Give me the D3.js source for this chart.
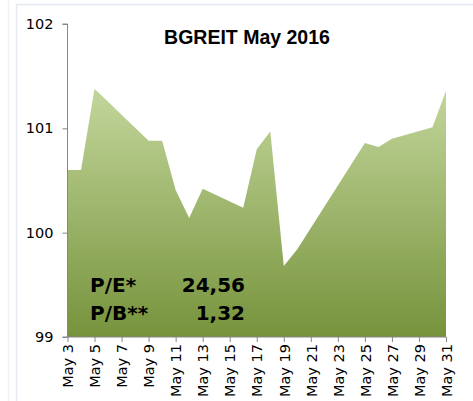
<!DOCTYPE html>
<html>
<head>
<meta charset="utf-8">
<script src="https://cdn.jsdelivr.net/npm/d3@7"></script>
<style>
  html, body { margin: 0; padding: 0; background: #ffffff; }
  svg { display: block; }
</style>
</head>
<body>
<svg id="chart" width="473" height="401"></svg>
<script>
// ---- data ----
const days = [3, 4, 5, 9, 10, 11, 12, 13, 16, 17, 18, 19, 20, 25, 26, 27, 30, 31];
const values = [100.60, 100.60, 101.38, 100.88, 100.88, 100.41, 100.14, 100.42, 100.24,
                100.80, 100.97, 99.68, 99.84, 100.86, 100.82, 100.90, 101.01, 101.36];
const tickDays = [3, 5, 7, 9, 11, 13, 15, 17, 19, 21, 23, 25, 27, 29, 31];
const tickLabels = ["May 3", "May 5", "May 7", "May 9", "May 11", "May 13", "May 15", "May 17",
                    "May 19", "May 21", "May 23", "May 25", "May 27", "May 29", "May 31"];
const yTicks = [99, 100, 101, 102];
const yTickLabels = ["99", "100", "101", "102"];
const titleText = "BGREIT May 2016";
const ratioLabels = ["P/E*", "P/B**"];
const ratioValues = ["24,56", "1,32"];

// ---- layout ----
const svg = d3.select("#chart");
const plot = { left: 67.5, right: 446, top: 24, bottom: 337 };

const x = d3.scaleLinear().domain([3, 31]).range([plot.left, plot.right]);
const y = d3.scaleLinear().domain([99, 102]).range([plot.bottom, plot.top]);

// panel borders
svg.append("line").attr("x1", 8.5).attr("x2", 8.5).attr("y1", 0).attr("y2", 401)
  .attr("stroke", "#eef2f6").attr("stroke-width", 1.5);
svg.append("path").attr("d", "M16.5,401 V4.5 H473")
  .attr("fill", "none").attr("stroke", "#e4e9ef").attr("stroke-width", 1.5);

// gradient
const defs = svg.append("defs");
const grad = defs.append("linearGradient").attr("id", "g")
  .attr("gradientUnits", "userSpaceOnUse")
  .attr("x1", 0).attr("x2", 0)
  .attr("y1", y(d3.max(values))).attr("y2", plot.bottom);
grad.append("stop").attr("offset", "0%").attr("stop-color", "#c3d69b");
grad.append("stop").attr("offset", "100%").attr("stop-color", "#76933c");

const data = days.map((d, i) => ({ d, v: values[i] }));
const area = d3.area().x(p => x(p.d)).y0(plot.bottom).y1(p => y(p.v));
svg.append("path").datum(data).attr("d", area).attr("fill", "url(#g)");

// y axis
const yAxis = d3.axisLeft(y).tickValues(yTicks)
  .tickFormat((d, i) => yTickLabels[i]).tickSize(5).tickPadding(9);
const gy = svg.append("g").attr("transform", `translate(${plot.left},0)`).call(yAxis);
gy.select(".domain").attr("stroke", "#878787").attr("d", `M-5,${plot.top}H0V${plot.bottom}H-5`);
gy.selectAll(".tick line").attr("stroke", "#878787");
gy.selectAll(".tick text").attr("font-family", "DejaVu Sans, Verdana, sans-serif")
  .attr("font-size", "14.5px").attr("fill", "#000");

// x axis
const xAxis = d3.axisBottom(x).tickValues(tickDays)
  .tickFormat((d, i) => tickLabels[i]).tickSize(5).tickPadding(4);
const gx = svg.append("g").attr("transform", `translate(0,${plot.bottom})`).call(xAxis);
gx.select(".domain").attr("stroke", "#878787").attr("d", `M${plot.left},0H${plot.right}`);
gx.selectAll(".tick line").attr("stroke", "#878787");
gx.selectAll(".tick text")
  .attr("font-family", "DejaVu Sans, Verdana, sans-serif")
  .attr("font-size", "14.5px").attr("fill", "#000")
  .attr("text-anchor", "end")
  .attr("transform", "rotate(-90)")
  .attr("x", -7).attr("y", 0).attr("dy", "0.36em");

// title
svg.append("text").attr("x", 247).attr("y", 43.5)
  .attr("text-anchor", "middle")
  .attr("font-family", "Liberation Sans, Arial, sans-serif")
  .attr("font-weight", "bold").attr("font-size", "19.5px").attr("fill", "#000")
  .text(titleText);

// ratios
const rowY = [292.3, 320.3];
ratioLabels.forEach((t, i) => {
  svg.append("text").attr("x", 90).attr("y", rowY[i])
    .attr("font-family", "DejaVu Sans, Verdana, sans-serif")
    .attr("font-weight", "bold").attr("font-size", "20px").attr("fill", "#000")
    .text(t);
  svg.append("text").attr("x", 245).attr("y", rowY[i]).attr("text-anchor", "end")
    .attr("font-family", "DejaVu Sans, Verdana, sans-serif")
    .attr("font-weight", "bold").attr("font-size", "20px").attr("fill", "#000")
    .text(ratioValues[i]);
});
</script>
</body>
</html>
